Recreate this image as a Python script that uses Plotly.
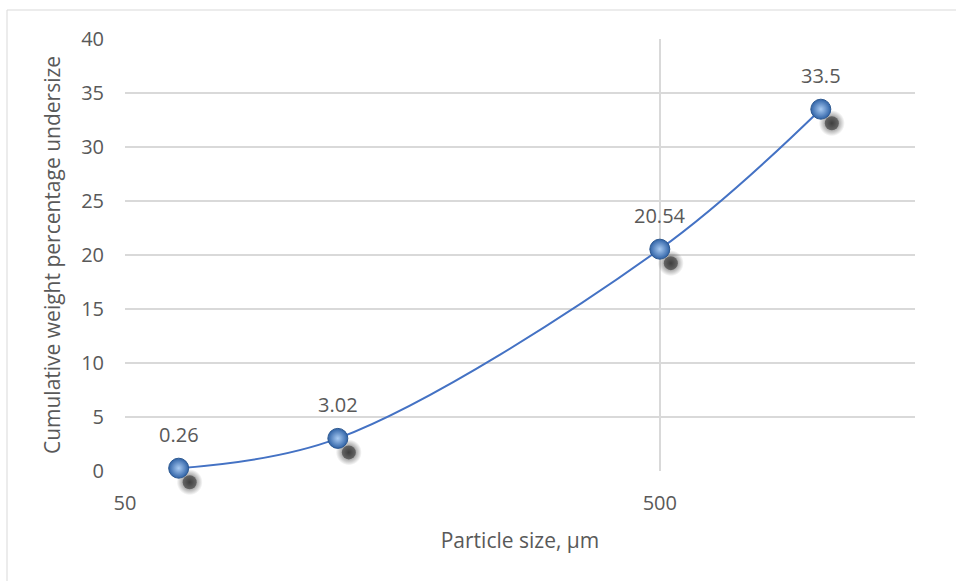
import math
import plotly.graph_objects as go

# Sieve analysis: cumulative weight percentage undersize vs particle size
particle_size_um = [63, 125, 500, 1000]
cum_undersize_pct = [0.26, 3.02, 20.54, 33.5]
value_labels = ["0.26", "3.02", "20.54", "33.5"]

x_tick_vals = [50, 500]
y_tick_vals = [0, 5, 10, 15, 20, 25, 30, 35, 40]

X_MIN, X_MAX = 50, 1500
Y_MIN, Y_MAX = 0, 40

W, H = 956, 581
M_L, M_R, M_T, M_B = 125, 41, 39, 80
EXTRA = 30                      # room below the value axis for marker shadows
plot_w = W - M_L - M_R
area_h = H - M_T - M_B          # full plotting region height
plot_h = area_h - EXTRA         # height of the 0..40 value band
y_dom = [EXTRA / area_h, 1]

TEXT = "#595959"
GRID = "#d9d9d9"
FONT = "Open Sans"

lx0, lx1 = math.log10(X_MIN), math.log10(X_MAX)

# drop-shadow offset (pixels) expressed in axis units
SH_DX, SH_DY = 11, 14
dx_dec = SH_DX * (lx1 - lx0) / plot_w
k = plot_h / (Y_MAX - Y_MIN)                 # px per unit on the value axis
y2_lo = Y_MIN + (SH_DY - EXTRA) / k
y2_hi = Y_MIN + (SH_DY + plot_h) / k

fig = go.Figure()

# smoothed curve
fig.add_trace(go.Scatter(
    x=particle_size_um, y=cum_undersize_pct, mode="lines",
    showlegend=False, hoverinfo="skip",
    line=dict(color="#4472c4", width=2, shape="spline", smoothing=1.0),
))

# soft shadow beneath each marker (halo + core)
fig.add_trace(go.Scatter(
    x=particle_size_um, y=cum_undersize_pct, mode="markers",
    xaxis="x2", yaxis="y2", hoverinfo="skip", showlegend=False,
    marker=dict(size=26, color="rgba(55,55,55,0)",
                gradient=dict(type="radial", color="rgba(55,55,55,0.9)"),
                line=dict(width=0)),
))
fig.add_trace(go.Scatter(
    x=particle_size_um, y=cum_undersize_pct, mode="markers",
    xaxis="x2", yaxis="y2", hoverinfo="skip", showlegend=False,
    marker=dict(size=14, color="rgba(55,55,55,0.6)", line=dict(width=0)),
))

# spherical markers on top
fig.add_trace(go.Scatter(
    x=particle_size_um, y=cum_undersize_pct, mode="markers",
    xaxis="x3", yaxis="y3", showlegend=False, cliponaxis=False,
    marker=dict(size=20, color="#2f62a6",
                gradient=dict(type="radial", color="#a9cbf3"),
                line=dict(color="#2c5890", width=1)),
))

for xv, yv, lab in zip(particle_size_um, cum_undersize_pct, value_labels):
    fig.add_annotation(x=math.log10(xv), y=yv, xref="x", yref="y",
                       text=lab, showarrow=False, yshift=34,
                       font=dict(family=FONT, size=20, color=TEXT))

hidden = dict(visible=False, showgrid=False, zeroline=False)

fig.update_layout(
    width=W, height=H,
    margin=dict(l=M_L, r=M_R, t=M_T, b=M_B),
    paper_bgcolor="white", plot_bgcolor="rgba(0,0,0,0)",
    font=dict(family=FONT, size=20, color=TEXT),
    xaxis=dict(type="log", range=[lx0, lx1], domain=[0, 1], anchor="y",
               tickvals=x_tick_vals, ticktext=[str(v) for v in x_tick_vals],
               showgrid=True, gridcolor=GRID, gridwidth=1.5,
               showline=False, zeroline=False, ticks="", ticklabelstandoff=18,
               title=dict(text="Particle size, µm", standoff=18,
                          font=dict(family=FONT, size=21, color=TEXT)),
               tickfont=dict(family=FONT, size=20, color=TEXT)),
    yaxis=dict(range=[Y_MIN, Y_MAX], domain=y_dom, anchor="x",
               tickvals=y_tick_vals,
               showgrid=True, gridcolor=GRID, gridwidth=1.5,
               showline=False, zeroline=False, ticks="", ticklabelstandoff=20,
               title=dict(text="Cumulative weight percentage undersize", standoff=14,
                          font=dict(family=FONT, size=21, color=TEXT)),
               tickfont=dict(family=FONT, size=20, color=TEXT)),
    xaxis2=dict(type="log", range=[lx0 - dx_dec, lx1 - dx_dec], domain=[0, 1],
                anchor="y2", **hidden),
    yaxis2=dict(range=[y2_lo, y2_hi], domain=[0, 1], anchor="x2", **hidden),
    xaxis3=dict(type="log", range=[lx0, lx1], domain=[0, 1], anchor="y3", **hidden),
    yaxis3=dict(range=[Y_MIN, Y_MAX], domain=y_dom, anchor="x3", **hidden),
)

# chart-area border
fig.add_shape(type="rect", xref="paper", yref="paper",
              x0=(7 - M_L) / plot_w, x1=1.3,
              y0=-0.5, y1=(H - M_B - 10) / area_h,
              line=dict(color=GRID, width=1), layer="below")

fig.write_html("out.html")
